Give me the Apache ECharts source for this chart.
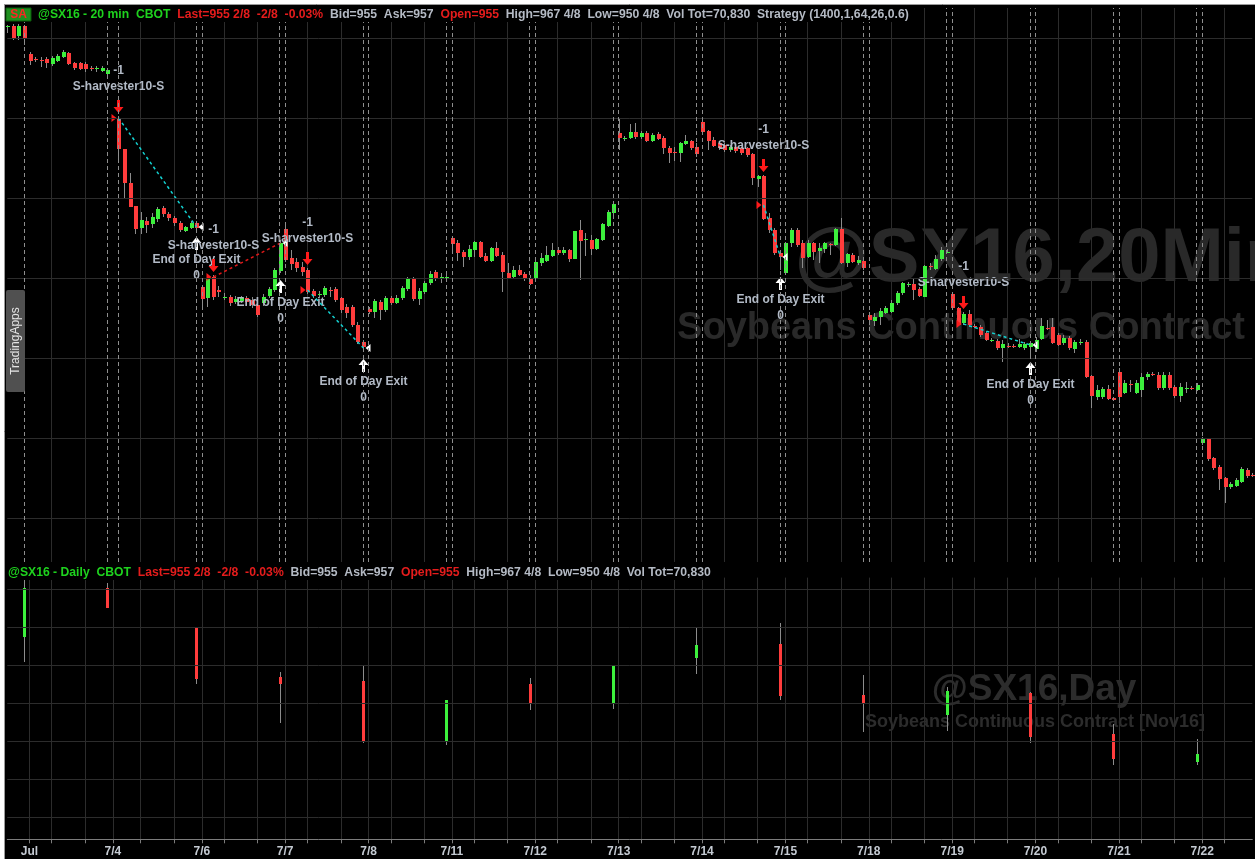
<!DOCTYPE html>
<html>
<head>
<meta charset="utf-8">
<title>@SX16 - 20 min</title>
<script src="https://cdn.jsdelivr.net/npm/echarts@6.0.0/dist/echarts.min.js"></script>
<style>
  html, body { margin: 0; padding: 0; background: #fff; }
  #chart { width: 1255px; height: 859px; }
</style>
</head>
<body>
<div id="chart"></div>
<script>
// sessions shown on the 20 min chart, and the date shown under each one (blank = no label)
const sessionDates = ['6/30', '7/1', '7/4', '7/5', '7/6', '7/7', '7/8', '7/11', '7/12', '7/13', '7/14', '7/15', '7/18', '7/19', '7/20', '7/21', '7/22'];
const sessionTicks = ['', 'Jul', '7/4', '', '7/6', '7/7', '7/8', '7/11', '7/12', '7/13', '7/14', '7/15', '7/18', '7/19', '7/20', '7/21', '7/22'];

// 20 min bars: [open, close, low, high]
const jun30 = [[1165.5, 1166, 1162.5, 1166.5], [1166, 1160, 1159, 1167], [1161, 1166, 1159, 1167], [1166, 1160, 1156.5, 1166.5]];
const jul01 = [[1152, 1148.5, 1146.5, 1153], [1149.5, 1149, 1148, 1150.5], [1149, 1148.75, 1145.5, 1150.5], [1149.5, 1147.5, 1145, 1150.5],
    [1147, 1150, 1146, 1151], [1148.5, 1151, 1148, 1152], [1150.5, 1153, 1150, 1154], [1152.5, 1147, 1146.5, 1153],
    [1147.5, 1145, 1144, 1148], [1147.5, 1144.5, 1144, 1148], [1147, 1144.5, 1143, 1148], [1145, 1144.75, 1143.5, 1146],
    [1144.5, 1145, 1143, 1146], [1143.5, 1145, 1143, 1146], [1142, 1144, 1141.5, 1145]];
const jul04 = [null];
const jul05 = [[1120, 1104.5, 1099, 1121], [1104.5, 1087.5, 1080, 1104.5], [1087.5, 1075.5, 1075.5, 1092.5], [1076, 1064.5, 1062, 1076],
    [1065, 1069, 1062, 1073], [1068.5, 1066.5, 1062.5, 1070.5], [1067, 1070.5, 1065, 1072.5], [1069.5, 1074.5, 1068, 1075.5],
    [1075, 1072, 1070.5, 1076], [1072, 1070, 1068.5, 1073], [1070, 1067.5, 1066, 1071], [1067.5, 1064, 1063, 1068.5],
    [1063.5, 1065.5, 1063, 1066], [1065, 1067.5, 1064.5, 1068.5], [1067.5, 1065, 1064, 1068.5]];
const jul06 = [[1035.5, 1029.5, 1025, 1036.5], [1030, 1040, 1025.5, 1041], [1040.5, 1030.5, 1029, 1041.5], [1034, 1033, 1030.5, 1036],
    [1030.5, 1030.75, 1029, 1032.5], [1030.5, 1027.5, 1026, 1031.5], [1028, 1029.5, 1027, 1031], [1028.5, 1030, 1027.5, 1031],
    [1030, 1028, 1026.5, 1031], [1029, 1026.5, 1025, 1030.5], [1026.5, 1021.5, 1020.5, 1027.5], [1027.5, 1030.5, 1026, 1032],
    [1031, 1034.5, 1030, 1035.5], [1034, 1044, 1033, 1045], [1043.5, 1057.5, 1042.5, 1059]];
const jul07 = [[1064.5, 1049, 1048, 1067], [1050, 1047, 1044, 1054], [1048, 1045, 1043, 1050], [1045.5, 1043, 1041, 1048],
    [1044, 1033, 1032, 1045], [1033.5, 1031, 1030, 1034.5], [1031.75, 1032, 1030.5, 1033.5], [1031.5, 1035, 1030.5, 1036],
    [1034, 1033.75, 1030.5, 1035.5], [1034.5, 1029, 1028, 1035.5], [1030, 1024, 1022.5, 1030.5], [1025.5, 1022.5, 1020, 1027],
    [1025.5, 1016.5, 1015.5, 1026.5], [1016.5, 1008, 1007, 1018], [1008, 1005.5, 1003, 1009]];
const jul08 = [[1024.5, 1023, 1022, 1025.5], [1023, 1028.5, 1020, 1029.5], [1028, 1024, 1019, 1029], [1024, 1030, 1023, 1031],
    [1030, 1027.5, 1026.5, 1031], [1027.5, 1030, 1027, 1031.5], [1030, 1035, 1029, 1036], [1034.5, 1039.5, 1033.5, 1040.5],
    [1039.5, 1029.5, 1028.5, 1040.5], [1029.5, 1033.5, 1026.5, 1035], [1033, 1037.5, 1032, 1038.5], [1037.5, 1042, 1036.5, 1043.5],
    [1043, 1039.5, 1038.5, 1044], [1040.25, 1040.5, 1037.5, 1042.5], [1040.25, 1040.5, 1038, 1043]];
const jul11 = [[1060, 1057, 1052.5, 1060.5], [1057.5, 1052.5, 1048.5, 1059], [1053, 1050.5, 1045.5, 1054], [1050.5, 1054.5, 1049, 1056.5],
    [1054, 1058, 1050.5, 1058.5], [1058, 1050.5, 1050, 1058.5], [1051, 1048.5, 1048, 1052.5], [1048.5, 1055, 1048, 1055.5],
    [1055, 1051, 1050.5, 1058], [1051.5, 1043, 1033, 1053], [1042.5, 1040, 1040, 1047.5], [1040.5, 1044, 1040, 1046],
    [1044, 1041.5, 1041, 1046.5], [1042, 1039.5, 1038.5, 1043], [1040, 1037, 1036.5, 1041.5]];
const jul12 = [[1039.5, 1048, 1039, 1049], [1047.5, 1050, 1046, 1052.5], [1048.5, 1051.5, 1048, 1056], [1051, 1054, 1050.5, 1057.5],
    [1054, 1052.5, 1051.5, 1055.5], [1052.5, 1054, 1051.5, 1055.5], [1054, 1049.5, 1048, 1054.5], [1049.5, 1063.5, 1049.5, 1063.5],
    [1064, 1058.5, 1039, 1069], [1059.25, 1059.5, 1051, 1062.5], [1059, 1054.5, 1051.5, 1061.5], [1054.5, 1059.5, 1054, 1060],
    [1059, 1067, 1058.5, 1067.5], [1066, 1073, 1065.5, 1074], [1072.5, 1077, 1071, 1078]];
const jul13 = [[1112.5, 1110, 1104, 1120], [1109.75, 1110, 1108.5, 1111], [1110, 1113, 1109.5, 1117], [1113, 1110.5, 1109.5, 1117.5],
    [1110.5, 1112.5, 1109.5, 1113.5], [1112.5, 1108.5, 1108, 1113.5], [1108.5, 1111.5, 1108, 1112.5], [1112, 1109.5, 1109, 1113],
    [1110, 1105, 1102, 1111], [1105, 1102.5, 1097.5, 1106], [1103, 1102.75, 1098.5, 1105.5], [1102.5, 1107.5, 1098, 1108],
    [1107, 1108.5, 1106.5, 1111.5], [1108.5, 1105, 1104, 1109], [1105.5, 1102, 1100.5, 1107.5]];
const jul14 = [[1118, 1113, 1112.5, 1119], [1113.5, 1108.5, 1104, 1114], [1109, 1106, 1105.5, 1110.5], [1107.5, 1105, 1104, 1108.5],
    [1106.5, 1104, 1103, 1107.5], [1104, 1105.5, 1103, 1106.5], [1105.5, 1103.5, 1102.5, 1107.5], [1105, 1102.5, 1101.5, 1105.5],
    [1105, 1101.5, 1100.5, 1105.5], [1102, 1090, 1086.5, 1102.5], [1089.5, 1091, 1085.5, 1091.5], [1091, 1069.5, 1069, 1091.5],
    [1070, 1064, 1062.5, 1072.5], [1064, 1052.5, 1051.5, 1065], [1052.5, 1050.5, 1044, 1053]];
const jul15 = [[1042.5, 1057.5, 1042, 1058], [1057.5, 1064, 1055.5, 1065], [1064, 1056.5, 1055.5, 1065], [1057.5, 1050, 1045, 1059],
    [1050.5, 1057.5, 1050, 1059], [1057.5, 1053, 1049, 1058], [1053.5, 1055, 1047.5, 1057.5], [1054.5, 1057.5, 1052.5, 1058],
    [1057, 1056.75, 1051.5, 1057.5], [1056.5, 1064.5, 1056, 1065], [1064.5, 1047.5, 1047, 1070], [1047.5, 1052, 1045.5, 1052.5],
    [1051.5, 1048, 1047.5, 1052.5], [1047.5, 1049, 1046.5, 1051], [1048.5, 1045, 1044, 1049.5]];
const jul18 = [[1021.5, 1019, 1016.5, 1023], [1018.5, 1020.5, 1016, 1022.5], [1020.5, 1023.5, 1016.5, 1025], [1022.5, 1025, 1022, 1026],
    [1023, 1027.5, 1022.5, 1029], [1027.5, 1032.5, 1026.5, 1033.5], [1032.5, 1037.5, 1031.5, 1038], [1036.75, 1037, 1035.5, 1038],
    [1037, 1034, 1029, 1040], [1034.5, 1031, 1030.5, 1035.5], [1030.5, 1046, 1030.5, 1046.5], [1046, 1045.75, 1044, 1047.5],
    [1044.5, 1049.5, 1044, 1051.5], [1049.5, 1054, 1048.5, 1055.5], [1053, 1053.25, 1052.5, 1054.5]];
const jul19 = [[1032, 1025, 1024, 1032.5], [1025, 1016.5, 1016, 1025.5], [1017.5, 1022, 1016.5, 1023], [1022, 1016.5, 1015.5, 1024],
    [1016.25, 1016, 1015, 1017], [1015.5, 1011.5, 1010.5, 1016.5], [1012.5, 1009, 1008.5, 1013.5], [1008.75, 1009, 1008, 1010],
    [1008.5, 1005, 1004, 1009.5], [1005, 1007, 998, 1009], [1006.25, 1006, 1005, 1007.5], [1006.25, 1006, 1005, 1007],
    [1005.5, 1007, 1005, 1009.5], [1005, 1007, 1004, 1008], [1005.5, 1007.5, 1001.5, 1008.5]];
const jul20 = [[1004.5, 1009, 1003, 1010.5], [1009.5, 1016, 1009, 1020], [1015, 1014.75, 1014, 1019], [1015.5, 1007.5, 1007, 1020],
    [1011.5, 1006.5, 1006, 1012.5], [1007.5, 1010, 1006.5, 1011.5], [1010, 1005, 1004, 1011], [1004.5, 1008, 1002.5, 1009],
    [1008, 1008.25, 1006.5, 1009.5], [1008, 990.5, 990, 1009], [991, 981, 975, 991.5], [980.5, 984, 979, 986.5],
    [980.5, 984.5, 979.5, 985.5], [984.5, 979.5, 979, 986.5], [980, 979, 978.5, 980.5]];
const jul21 = [[993, 980.5, 977.5, 995], [982.5, 987.5, 982, 989], [987, 986.75, 983, 989], [982.5, 987.5, 982, 989],
    [984, 990.5, 980.5, 992.5], [990.5, 992, 989, 993], [992, 991.75, 991, 993], [991.5, 985, 984, 993],
    [985, 991.5, 984, 993], [991.5, 985, 984, 993], [985.5, 981, 980, 986.5], [981, 985.5, 978, 987.5],
    [984.75, 985, 982.5, 988], [985, 984.75, 984, 986], [984, 986.5, 983.5, 987.5]];
const jul22 = [[957.5, 960, 956.5, 960.5], [959.5, 949.5, 948.5, 960], [950, 945, 944, 950.5], [945.5, 939.5, 934, 946.5],
    [940, 935.5, 927.5, 940.5], [935.5, 937, 934.5, 938], [936, 939, 935.5, 940], [938, 944.5, 937.5, 945.5],
    [944, 941, 940, 945], [941.5, 941.25, 940.5, 942.5]];
const sessionBars = [jun30, jul01, jul04, jul05, jul06, jul07, jul08, jul11, jul12, jul13, jul14, jul15, jul18, jul19, jul20, jul21, jul22];

// daily bars [open, close, low, high], drawn at the last 20 min bar of their session
const dailyDates = ['6/30', '7/1', '7/5', '7/6', '7/7', '7/8', '7/11', '7/12', '7/13', '7/14', '7/15', '7/18', '7/19', '7/20', '7/21'];
const dailyBars = [[1109.75, 1160.75, 1083.5, 1170.25], [1160.75, 1139.75, 1139.75, 1166.5], [1119.75, 1065.5, 1060, 1119.75],
    [1067.75, 1060, 1019.25, 1072.25], [1063.5, 999.25, 998.25, 1079], [1000.25, 1042.75, 996, 1042.75],
    [1060, 1038.5, 1032.5, 1066], [1040.25, 1079, 1033.75, 1079], [1087.5, 1101, 1070.25, 1118.5],
    [1102, 1047.5, 1043.25, 1124], [1048.5, 1040.25, 1009.75, 1069.5], [1027.5, 1053, 1011, 1057.25],
    [1050.25, 1004.5, 998.25, 1052], [1007.5, 980.75, 974.75, 1018], [978.25, 986.25, 974.75, 1001.75]];

// strategy trades (short entries, end of day exits): bar number inside the chart and fill price
const tradeEntryBar = [20, 37, 54, 136, 172];
const tradeEntryPx = [1120, 1040.5, 1034, 1076.5, 1017];
const tradeExitBar = [34, 49, 64, 139, 184];
const tradeExitPx = [1065.5, 1057.5, 1005, 1050.5, 1006.5];

// price levels of the horizontal grid lines (both panes)
const priceLines = [1160, 1120, 1080, 1040, 1000, 960, 920];

const FONT = '"Liberation Sans", Arial, sans-serif';
const UP = '#3cf03c', DOWN = '#ff3c3c', WICK = '#8c8c8c', NOTE = '#b2bac6';

const categories = [], bars = [], sessionStart = [], sessionEnd = [];
sessionBars.forEach((list, s) => {
    sessionStart.push(bars.length);
    list.forEach((b, k) => {
        categories.push(sessionDates[s] + ' #' + (k + 1));
        bars.push(b);
    });
    sessionEnd.push(bars.length - 1);
});
const isReal = s => sessionBars[s][0] !== null;

const tickAt = new Map();
sessionTicks.forEach((t, s) => { if (t) tickAt.set(sessionStart[s], t); });

const innerLines = new Set();
sessionBars.forEach((list, s) => {
    if (s === 0 || !isReal(s)) return;
    [4, 10].forEach(k => { if (k < list.length) innerLines.add(sessionStart[s] + k); });
});
const lowerLines = new Set([...innerLines, ...tickAt.keys()]);

const dayLines = [];
sessionBars.forEach((list, s) => {
    if (!isReal(s)) return;
    if (s > 1) dayLines.push(sessionStart[s]);
    if (s < sessionBars.length - 1) dayLines.push(sessionEnd[s]);
});

const candleData = [];
bars.forEach((b, i) => { if (b) candleData.push([i, b[0], b[1], b[2], b[3]]); });

const dailyData = dailyBars.map((b, k) => [sessionEnd[sessionDates.indexOf(dailyDates[k])], b[0], b[1], b[2], b[3]]);

const tradeData = tradeEntryBar.map((b, k) => [b, tradeEntryPx[k], tradeExitBar[k], tradeExitPx[k]]);

function candleRenderer(bodyW) {
    return function (params, api) {
        const i = api.value(0);
        const po = api.coord([i, api.value(1)]);
        const pc = api.coord([i, api.value(2)]);
        const pl = api.coord([i, api.value(3)]);
        const ph = api.coord([i, api.value(4)]);
        const cx = Math.round(po[0]);
        const up = api.value(2) >= api.value(1);
        const top = Math.round(Math.min(po[1], pc[1]));
        const bot = Math.round(Math.max(po[1], pc[1]));
        return {
            type: 'group',
            children: [
                {type: 'line', shape: {x1: cx + 0.5, y1: Math.round(ph[1]), x2: cx + 0.5, y2: Math.round(pl[1])},
                    style: {stroke: WICK, lineWidth: 1}},
                {type: 'rect', shape: {x: cx - 1, y: top, width: bodyW, height: Math.max(1, bot - top)},
                    style: {fill: up ? UP : DOWN}}
            ]
        };
    };
}

function note(text, x, y) {
    return {type: 'text', x: x, y: y, style: {text: text, fill: NOTE, font: 'bold 12px ' + FONT,
        align: 'center', verticalAlign: 'middle', textAlign: 'center', textVerticalAlign: 'middle'}};
}

function renderTrade(params, api) {
    const eb = api.value(0), ep = api.value(1), xb = api.value(2), xp = api.value(3);
    const E = api.coord([eb, ep]), X = api.coord([xb, xp]);
    const hi = api.coord([eb, bars[eb][3]])[1];
    const lo = api.coord([xb, bars[xb][2]])[1];
    const ex = Math.round(E[0]) + 0.5, xx = Math.round(X[0]) + 0.5;
    const win = xp < ep;
    const dn = hi - 3, upTip = lo + 7;
    return {
        type: 'group',
        children: [
            {type: 'line', shape: {x1: ex, y1: E[1], x2: xx, y2: X[1]},
                style: {stroke: win ? '#14d2d2' : '#e01818', lineWidth: 1.5, lineDash: [3, 3]}},
            {type: 'polygon', shape: {points: [[ex - 1.5, dn - 13], [ex + 1.5, dn - 13], [ex + 1.5, dn - 6], [ex + 5, dn - 6],
                [ex, dn], [ex - 5, dn - 6], [ex - 1.5, dn - 6]]}, style: {fill: '#ff1a1a'}},
            {type: 'polygon', shape: {points: [[ex - 7, E[1] - 4], [ex - 7, E[1] + 4], [ex - 2, E[1]]]}, style: {fill: '#ff1a1a'}},
            {type: 'polygon', shape: {points: [[xx - 1.5, upTip + 13], [xx + 1.5, upTip + 13], [xx + 1.5, upTip + 6], [xx + 5, upTip + 6],
                [xx, upTip], [xx - 5, upTip + 6], [xx - 1.5, upTip + 6]]}, style: {fill: '#ffffff'}},
            {type: 'polygon', shape: {points: [[xx + 7, X[1] - 4], [xx + 7, X[1] + 4], [xx + 2, X[1]]]}, style: {fill: '#ffffff'}},
            note('-1', ex, hi - 45),
            note('S-harvester10-S', ex, hi - 29),
            note('End of Day Exit', xx, lo + 30),
            note('0', xx, lo + 46)
        ]
    };
}

function gridLines(xAxisIndex, withDays) {
    const data = priceLines.map(v => ({yAxis: v, lineStyle: {color: '#2c2c2c', type: 'solid', width: 1}}));
    if (withDays) {
        dayLines.forEach(i => data.push({xAxis: categories[i], lineStyle: {color: '#8e8e8e', type: [4, 3], width: 1}}));
    }
    return {
        type: 'line', xAxisIndex: xAxisIndex, yAxisIndex: xAxisIndex, data: [], silent: true, z: 1,
        markLine: {silent: true, symbol: ['none', 'none'], label: {show: false}, animation: false, data: data}
    };
}

const HFONT = 'bold 12.2px ' + FONT;
function header(x, y, name, extra) {
    return {
        type: 'text', x: x, y: y, z: 101,
        style: {
            text: '{g|' + name + '  CBOT}  {r|Last=955 2/8  -2/8  -0.03%}  {w|Bid=955  Ask=957}  {r|Open=955}  {w|High=967 4/8  Low=950 4/8  Vol Tot=70,830' + extra + '}',
            font: HFONT, fill: '#b4bac4', verticalAlign: 'middle', textVerticalAlign: 'middle',
            rich: {
                g: {fill: '#1ed21e', font: HFONT},
                r: {fill: '#e51c1c', font: HFONT},
                w: {fill: '#b4bac4', font: HFONT}
            }
        }
    };
}

function watermark(text, x, y, size, color) {
    return {type: 'text', x: x, y: y, z: 1, silent: true,
        style: {text: text, font: 'bold ' + size + 'px ' + FONT, fill: color,
            align: 'center', verticalAlign: 'middle', textAlign: 'center', textVerticalAlign: 'middle'}};
}

const chart = echarts.init(document.getElementById('chart'));
const option = {
    backgroundColor: '#000',
    animation: false,
    grid: [
        {left: 7.28, right: 2.7, top: 8, height: 554},
        {left: 7.28, right: 2.7, top: 577.6, height: 261.7}
    ],
    xAxis: [
        {
            type: 'category', gridIndex: 0, data: categories, boundaryGap: false,
            axisLine: {show: false}, axisTick: {show: false}, axisLabel: {show: false},
            splitLine: {show: true, interval: i => innerLines.has(i), lineStyle: {color: '#2c2c2c', width: 1}}
        },
        {
            type: 'category', gridIndex: 1, data: categories, boundaryGap: false,
            axisLine: {lineStyle: {color: '#7c7c7c', width: 1}},
            axisTick: {interval: i => lowerLines.has(i), length: 4, lineStyle: {color: '#7c7c7c'}},
            axisLabel: {
                interval: i => tickAt.has(i), formatter: (v, i) => tickAt.get(i) || '',
                color: '#c4cad2', fontWeight: 'bold', fontSize: 12, fontFamily: FONT, margin: 6
            },
            splitLine: {show: true, interval: i => lowerLines.has(i), lineStyle: {color: '#2c2c2c', width: 1}}
        }
    ],
    yAxis: [
        {type: 'value', gridIndex: 0, min: 898, max: 1175, show: false},
        {type: 'value', gridIndex: 1, min: 896.5, max: 1172, show: false}
    ],
    graphic: [
        watermark('@SX16,20Min', 1043, 260, 76, '#292929'),
        watermark('Soybeans Continuous Contract [Nov16]', 1036, 329, 38, '#292929'),
        watermark('@SX16,Day', 1034, 690, 37, '#2c2c2c'),
        watermark('Soybeans Continuous Contract [Nov16]', 1035, 722, 18, '#2c2c2c'),
        {type: 'rect', z: 100, shape: {x: 5, y: 7, width: 910, height: 15}, style: {fill: '#000'}},
        {type: 'rect', z: 100, shape: {x: 5, y: 565, width: 708, height: 15}, style: {fill: '#000'}},
        header(38, 14.5, '@SX16 - 20 min', '  Strategy (1400,1,64,26,0.6)'),
        header(8, 572.5, '@SX16 - Daily', ''),
        {type: 'rect', z: 102, shape: {x: 6, y: 8, width: 25, height: 13}, style: {fill: '#1f8f1f', stroke: '#0b5a0b', lineWidth: 1}},
        {type: 'text', z: 103, x: 18.5, y: 15, style: {text: 'SA', fill: '#ff2424', font: 'bold 12px ' + FONT,
            align: 'center', verticalAlign: 'middle', textAlign: 'center', textVerticalAlign: 'middle'}},
        {type: 'rect', z: 102, shape: {x: 6, y: 290, width: 19, height: 102, r: 2}, style: {fill: '#505050'}},
        {type: 'text', z: 103, x: 15.5, y: 341, rotation: Math.PI / 2,
            style: {text: 'TradingApps', fill: '#e4e4e4', font: '12px ' + FONT,
                align: 'center', verticalAlign: 'middle', textAlign: 'center', textVerticalAlign: 'middle'}},
        {type: 'rect', z: 110, shape: {x: 0, y: 0, width: 1255, height: 4}, style: {fill: '#fff'}},
        {type: 'rect', z: 110, shape: {x: 0, y: 0, width: 4, height: 859}, style: {fill: '#fff'}},
        {type: 'line', z: 111, shape: {x1: 4, y1: 4.5, x2: 1255, y2: 4.5}, style: {stroke: '#9a9a9a', lineWidth: 1}},
        {type: 'line', z: 111, shape: {x1: 4.5, y1: 4, x2: 4.5, y2: 859}, style: {stroke: '#9a9a9a', lineWidth: 1}}
    ],
    series: [
        gridLines(0, true),
        gridLines(1, false),
        {
            type: 'custom', name: '@SX16 20 min', xAxisIndex: 0, yAxisIndex: 0, z: 3,
            renderItem: candleRenderer(4), encode: {x: 0, y: [1, 2, 3, 4]}, data: candleData
        },
        {
            type: 'custom', name: 'trades', xAxisIndex: 0, yAxisIndex: 0, z: 4, silent: true,
            renderItem: renderTrade, encode: {x: [0, 2], y: [1, 3]}, data: tradeData
        },
        {
            type: 'custom', name: '@SX16 Daily', xAxisIndex: 1, yAxisIndex: 1, z: 3,
            renderItem: candleRenderer(3), encode: {x: 0, y: [1, 2, 3, 4]}, data: dailyData
        }
    ]
};
chart.setOption(option);
window.addEventListener('resize', () => chart.resize());
</script>
</body>
</html>
